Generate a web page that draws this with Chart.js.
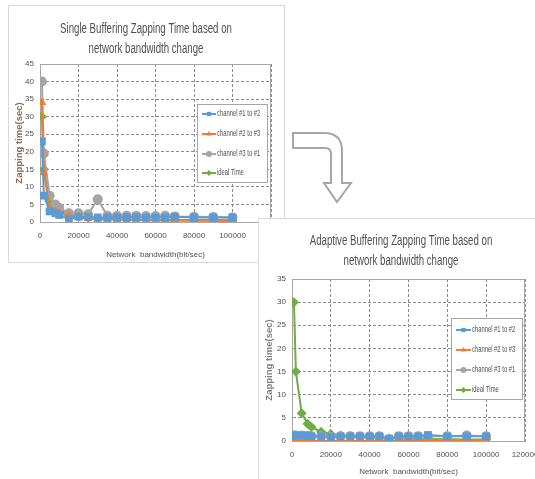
<!DOCTYPE html>
<html>
<head>
<meta charset="utf-8">
<script src="https://cdn.jsdelivr.net/npm/chart.js@4.4.1/dist/chart.umd.min.js"></script>
<style>
  html, body { margin: 0; padding: 0; background: #fff; }
  body { width: 535px; height: 479px; position: relative; overflow: hidden; }
  .panel { position: absolute; background: #fff; border: 1px solid #d9d9d9; box-sizing: border-box; }
  #p1 { left: 8px; top: 5px; width: 277px; height: 258px; }
  #p2 { left: 258px; top: 218px; width: 290px; height: 270px; }
  canvas { position: absolute; left: 0; top: 0; }
  #arrow { position: absolute; left: 0; top: 0; }
</style>
</head>
<body>
<div class="panel" id="p1"><canvas id="c1" width="277" height="257"></canvas></div>
<svg id="arrow" width="535" height="479">
  <path d="M293,133 L324,133 Q342,133 342,151 L342,183 L351,183 L337,202 L324,183 L331,183 L331,154 Q331,148 325,148 L293,148 Z"
        fill="#fff" stroke="#a6a6a6" stroke-width="2" stroke-linejoin="miter"/>
</svg>
<div class="panel" id="p2"><canvas id="c2" width="277" height="261"></canvas></div>
<script>
const bandwidth = [1000, 2000, 5000, 8000, 10000, 15000, 20000, 25000, 30000, 35000,
  40000, 45000, 50000, 55000, 60000, 65000, 70000, 80000, 90000, 100000];

const seriesNames = ["channel #1 to #2", "channel #2 to #3", "channel #3 to #1", "ideal Time"];

// single buffering
const single12 = [23, 7.5, 3, 2.5, 2, 0.8, 1.5, 1.5, 1.3, 1.3, 1.3, 1.4, 1.4, 1.3, 1.3, 1.3, 1.5, 1.3, 1.3, 1.3];
const single23 = [34, 14, 4, 3, 2.5, 1.8, 1.3, 1, 0.8, 0.7, 0.7, 0.7, 0.7, 0.6, 0.6, 0.6, 0.6, 0.6, 0.6, 0.6];
const single31 = [40, 19.5, 7.5, 5, 4, 2.5, 2.5, 2.2, 6.5, 1.8, 1.8, 1.8, 1.8, 1.7, 1.7, 1.8, 1.6, 1.5, 1.4, 1.3];
const idealTime = [30, 15, 6, 3.75, 3, 2, 1.5, 1.2, 1, 0.86, 0.75, 0.67, 0.6, 0.55, 0.5, 0.46, 0.43, 0.38, 0.33, 0.3];

// adaptive buffering
const adaptive12 = [1.2, 1.2, 1.2, 1.2, 1, 1, 0.9, 1, 1, 1, 1, 1, 0.5, 1, 1, 1, 1.3, 1, 1, 1];
const adaptive23 = [0.3, 0.3, 0.3, 0.2, 0, 0, 0, 0, 0, 0, 0, 0, 0, 0, 0, 0, 0.2, 0.2, 0.2, 0.2];
const adaptive31 = [1.2, 1.2, 1.2, 1.1, 1, 1, 0.9, 1, 1, 1, 1, 1, 0.4, 1, 1, 1, 1, 1, 1.2, 1];

const xTicksMax = 120000;
const xStep = 20000;

const FONT = "'Liberation Sans', Arial, sans-serif";
const TEXT = "#505050";
const GRID = "#8c8c8c";

const styles = [
  { color: "#5b9bd5", pointStyle: "rect", radius: 5.5 },
  { color: "#ed7d31", pointStyle: "triangle", radius: 5 },
  { color: "#a5a5a5", pointStyle: "circle", radius: 5 },
  { color: "#70ad47", pointStyle: "rectRot", radius: 5 }
];

function makeDatasets(seriesList) {
  return seriesList.map((values, i) => ({
    label: seriesNames[i],
    data: bandwidth.map((bw, k) => ({ x: bw, y: values[k] })),
    borderColor: styles[i].color,
    backgroundColor: styles[i].color,
    borderWidth: 2,
    pointStyle: styles[i].pointStyle,
    pointRadius: styles[i].radius,
    pointBorderWidth: 0,
    tension: 0
  }));
}

// text squeezed horizontally, to get close to the narrow office font
function narrowText(ctx, text, x, y, size, sx, align) {
  ctx.save();
  ctx.font = size + "px " + FONT;
  ctx.textBaseline = "middle";
  const w = ctx.measureText(text).width * sx;
  const left = align === "center" ? x - w / 2 : x;
  ctx.translate(left, y);
  ctx.scale(sx, 1);
  ctx.textAlign = "left";
  ctx.fillText(text, 0, 0);
  ctx.restore();
}

const framePlugin = {
  id: "frame",
  afterDatasetsDraw(chart) {
    const { ctx, chartArea: a } = chart;
    ctx.save();
    ctx.strokeStyle = "#a6a6a6";
    ctx.lineWidth = 1;
    ctx.beginPath();
    ctx.moveTo(a.left, a.top + 0.5);
    ctx.lineTo(a.right - 0.5, a.top + 0.5);
    ctx.lineTo(a.right - 0.5, a.bottom);
    ctx.stroke();
    ctx.restore();
  }
};

const headPlugin = {
  id: "head",
  afterDraw(chart, args, opts) {
    const { ctx } = chart;
    ctx.save();
    ctx.fillStyle = TEXT;
    opts.lines.forEach((line, i) => {
      narrowText(ctx, line, opts.cx, opts.y + i * opts.gap, 14, 0.69, "center");
    });
    ctx.restore();
  }
};

const boxLegendPlugin = {
  id: "boxLegend",
  afterDraw(chart, args, opts) {
    const { ctx } = chart;
    ctx.save();
    ctx.fillStyle = "#fff";
    ctx.fillRect(opts.x, opts.y, opts.w, opts.h);
    ctx.strokeStyle = "#a6a6a6";
    ctx.lineWidth = 1;
    ctx.strokeRect(opts.x + 0.5, opts.y + 0.5, opts.w, opts.h);
    chart.data.datasets.forEach((ds, i) => {
      const y = opts.rows[i];
      ctx.strokeStyle = ds.borderColor;
      ctx.lineWidth = 2;
      ctx.beginPath();
      ctx.moveTo(opts.lineX, y);
      ctx.lineTo(opts.lineX + opts.lineW, y);
      ctx.stroke();
      ctx.fillStyle = ds.backgroundColor;
      Chart.helpers.drawPoint(ctx, {
        pointStyle: ds.pointStyle, radius: 3, borderWidth: 0, rotation: 0
      }, opts.lineX + opts.lineW / 2, y);
      ctx.fillStyle = TEXT;
      narrowText(ctx, ds.label, opts.lineX + opts.lineW + 1, y, 9, 0.65, "left");
    });
    ctx.restore();
  }
};

function buildChart(canvas, cfg) {
  return new Chart(canvas.getContext("2d"), {
    type: "line",
    data: { datasets: makeDatasets(cfg.series) },
    plugins: [framePlugin, boxLegendPlugin, headPlugin],
    options: {
      responsive: false,
      animation: false,
      layout: { padding: { left: 0, right: cfg.padRight, top: cfg.padTop, bottom: 0 } },
      plugins: {
        legend: { display: false },
        tooltip: { enabled: false },
        title: { display: false },
        head: cfg.head,
        boxLegend: cfg.legend
      },
      scales: {
        x: {
          type: "linear",
          min: 0,
          max: xTicksMax,
          afterFit: (s) => { s.height = cfg.xHeight; s.paddingLeft = 0; s.paddingRight = 0; },
          ticks: { stepSize: xStep, color: TEXT, padding: 9, maxRotation: 0,
            callback: (v) => String(v),
            font: { family: FONT, size: 8 } },
          grid: { color: GRID, drawTicks: false },
          border: { display: true, color: "#a6a6a6", dash: [3, 2] },
          title: {
            display: true, text: "Network  bandwidth(bit/sec)", color: TEXT,
            font: { family: FONT, size: 8 }, padding: { top: 0, bottom: 3 }
          }
        },
        y: {
          min: 0,
          max: cfg.yMax,
          afterFit: (s) => { s.width = cfg.yWidth; s.paddingTop = 0; s.paddingBottom = 0; },
          ticks: { stepSize: 5, color: TEXT, padding: 6,
            font: { family: FONT, size: 8 } },
          grid: { color: GRID, drawTicks: false },
          border: { display: true, color: "#a6a6a6", dash: [3, 2] },
          title: {
            display: true, text: "Zapping time(sec)", color: cfg.yTitleColor,
            font: { family: FONT, size: 9.5, weight: "bold" }, padding: { top: 5, bottom: 0 }
          }
        }
      }
    }
  });
}

buildChart(document.getElementById("c1"), {
  series: [single12, single23, single31, idealTime],
  head: { lines: ["Single Buffering Zapping Time based on", "network bandwidth change"], cx: 137, y: 23, gap: 20 },
  padTop: 58, padRight: 15, xHeight: 41, yWidth: 31, yMax: 45,
  yTitleColor: "#8a6a55",
  legend: { x: 188, y: 98, w: 70, h: 78, rows: [108, 128, 148, 167], lineX: 193, lineW: 14 }
});

buildChart(document.getElementById("c2"), {
  series: [adaptive12, adaptive23, adaptive31, idealTime],
  head: { lines: ["Adaptive Buffering Zapping Time based on", "network bandwidth change"], cx: 142, y: 22, gap: 20 },
  padTop: 60, padRight: 11, xHeight: 39, yWidth: 33, yMax: 35,
  yTitleColor: "#7f7f7f",
  legend: { x: 192, y: 99, w: 71, h: 81, rows: [111, 131, 151, 171], lineX: 197, lineW: 15 }
});
</script>
</body>
</html>
